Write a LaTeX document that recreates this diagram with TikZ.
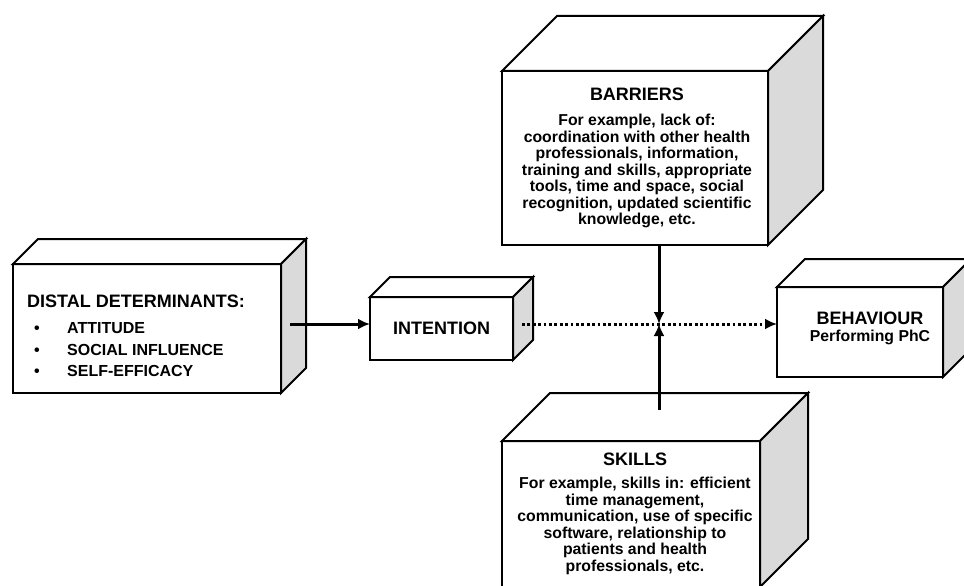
\documentclass[tikz,border=0pt]{standalone}
\usepackage{fontspec}
\setmainfont{Liberation Sans}
\usetikzlibrary{arrows.meta,positioning}
\definecolor{sidegray}{HTML}{D9DAD9}

% top and side faces of a block, #1 = front node, #2 = depth
\newcommand{\blockfaces}[2]{%
  \draw[face,fill=white] (#1.north west) -- ++(#2,-#2)
    -- ([shift={(#2,-#2)}]#1.north east) -- (#1.north east) -- cycle;
  \draw[face,fill=sidegray] (#1.north east) -- ++(#2,-#2)
    -- ([shift={(#2,-#2)}]#1.south east) -- (#1.south east) -- cycle;}

\begin{document}
\begin{tikzpicture}[
  x=1pt, y=-1pt,
  >=Latex,
  box/.style={draw, fill=white, line width=2pt, outer sep=0pt, inner sep=0pt},
  face/.style={line width=2pt, draw},
  boxtext/.style={font=\bfseries\fontsize{15.8}{16.5}\selectfont, align=center, inner sep=0pt},
  titlefont/.style={font=\bfseries\fontsize{18}{20}\selectfont},
  flow/.style={-{Latex[length=12pt,width=11pt]}, line width=3pt}
]
\useasboundingbox (0,0) rectangle (964,586);
\clip (0,0) rectangle (964,586);

% blocks
\node[box, minimum width=268pt, minimum height=129pt] (distal) at (147,328.5) {};
\node[box, minimum width=143pt, minimum height=63pt] (intention) at (441.5,328.5) {};
\node[box, minimum width=266pt, minimum height=174pt] (barriers) at (635,158) {};
\node[box, minimum width=258pt, minimum height=146pt] (skills) at (631,514) {};
\node[box, minimum width=166pt, minimum height=90pt] (behaviour) at (860,332) {};
\blockfaces{distal}{25}
\blockfaces{intention}{20}
\blockfaces{barriers}{55}
\blockfaces{skills}{48}
\blockfaces{behaviour}{28}

% texts
\node[boxtext, align=left, anchor=north west, font=\bfseries\fontsize{16}{21.5}\selectfont]
  (distal-text) at ([xshift=14pt,yshift=-31pt]distal.north west)
  {{\fontsize{18}{21.5}\selectfont DISTAL DETERMINANTS:}\\[4.5pt]
   \makebox[40pt][l]{\hspace{7pt}\textbullet}ATTITUDE\\
   \makebox[40pt][l]{\hspace{7pt}\textbullet}SOCIAL INFLUENCE\\
   \makebox[40pt][l]{\hspace{7pt}\textbullet}SELF-EFFICACY};
\node[boxtext, titlefont] (intention-text) at (intention.center) {INTENTION};
\node[boxtext, anchor=north] (barriers-text) at ([xshift=2pt,yshift=-17pt]barriers.north)
  {{\fontsize{18}{16.5}\selectfont BARRIERS}\\[8.5pt]
   For example, lack of:\\
   coordination with other health\\
   professionals, information,\\
   training and skills, appropriate\\
   tools, time and space, social\\
   recognition, updated scientific\\
   knowledge, etc.};
\node[boxtext, anchor=north] (skills-text) at ([xshift=4pt,yshift=-12pt]skills.north)
  {{\fontsize{18}{16.5}\selectfont SKILLS}\\[6.5pt]
   For example, skills in: efficient\\
   time management,\\
   communication, use of specific\\
   software, relationship to\\
   patients and health\\
   professionals, etc.};
\node[boxtext, anchor=north] (behaviour-text) at ([xshift=10pt,yshift=-25pt]behaviour.north)
  {{\fontsize{18}{16.7}\selectfont BEHAVIOUR}\\
   Performing PhC};

% connectors
\coordinate (hub) at (659,324);
\draw[flow] ([xshift=9pt]distal.east |- hub) -- (intention.west |- hub);
\draw[flow, dash pattern=on 2.7pt off 2.7pt] ([xshift=9pt]intention.east |- hub) -- (behaviour.west |- hub);
\draw[flow] (hub |- barriers.south) -- (hub);
\draw[flow] ([yshift=31pt]hub |- skills.north) -- (hub);
\end{tikzpicture}
\end{document}
